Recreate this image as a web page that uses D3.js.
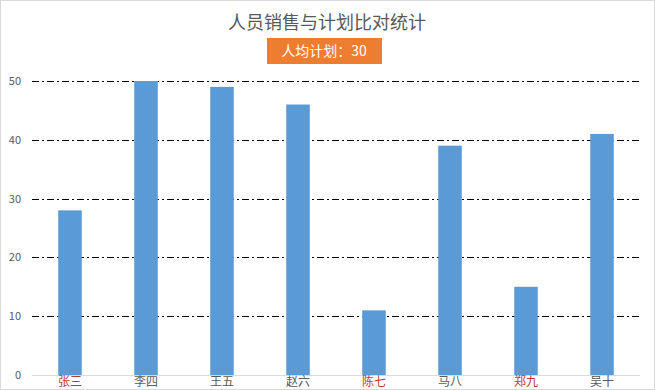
<!DOCTYPE html>
<html>
<head>
<meta charset="utf-8">
<script src="https://cdn.jsdelivr.net/npm/d3@7"></script>
<style>
  body { margin: 0; background: #fff; }
  svg { display: block; font-family: "Microsoft YaHei", "Noto Sans CJK SC", sans-serif; }
</style>
</head>
<body>
<svg width="655" height="390"></svg>
<script>
var names = ["张三", "李四", "王五", "赵六", "陈七", "马八", "郑九", "吴十"];
var sales = [28, 50, 49, 46, 11, 39, 15, 41];
var yTicks = [0, 10, 20, 30, 40, 50];
var plan = 30;

var svg = d3.select("svg"),
  width = +svg.attr("width"),
  height = +svg.attr("height");

var plotLeft = 32, plotRight = 640, plotTop = 81, plotBottom = 375;

// 外框
svg.append("rect")
  .attr("x", 0.5).attr("y", 0.5)
  .attr("width", width - 1).attr("height", height - 1)
  .attr("fill", "#fff").attr("stroke", "#d9d9d9");

var x = d3.scaleBand().domain(names).range([plotLeft, plotRight]).paddingInner(0.69).paddingOuter(0.345);
var y = d3.scaleLinear().domain([0, 50]).range([plotBottom, plotTop]);

// 网格线
svg.append("g").selectAll("line")
  .data(yTicks.filter(function(d) { return d > 0; }))
  .enter().append("line")
  .attr("x1", plotLeft).attr("x2", plotRight)
  .attr("y1", function(d) { return Math.round(y(d)) + 0.5; })
  .attr("y2", function(d) { return Math.round(y(d)) + 0.5; })
  .attr("stroke", "#000")
  .attr("stroke-width", 1)
  .attr("stroke-dasharray", "7,3,2,3");

// y轴标签
svg.append("g").selectAll("text")
  .data(yTicks)
  .enter().append("text")
  .attr("x", 21)
  .attr("y", function(d) { return y(d) + 4; })
  .attr("text-anchor", "end")
  .attr("font-size", 11)
  .attr("fill", "#595959")
  .text(function(d) { return d; });

// 柱子
svg.append("g").selectAll("rect")
  .data(sales)
  .enter().append("rect")
  .attr("x", function(d, i) { return x(names[i]); })
  .attr("width", x.bandwidth())
  .attr("y", function(d) { return y(d); })
  .attr("height", function(d) { return y(0) - y(d); })
  .attr("fill", "#5b9bd5");

// x轴
svg.append("line")
  .attr("x1", plotLeft).attr("x2", plotRight)
  .attr("y1", plotBottom + 0.5).attr("y2", plotBottom + 0.5)
  .attr("stroke", "#d9d9d9");

svg.append("g").selectAll("text")
  .data(names)
  .enter().append("text")
  .attr("x", function(d) { return x(d) + x.bandwidth() / 2; })
  .attr("y", 386)
  .attr("text-anchor", "middle")
  .attr("font-size", 12)
  .attr("fill", function(d, i) { return sales[i] < plan ? "#c0392b" : "#595959"; })
  .text(function(d) { return d; });

// 标题
svg.append("text")
  .attr("x", 327).attr("y", 29)
  .attr("text-anchor", "middle")
  .attr("font-size", 18)
  .attr("fill", "#595959")
  .text("人员销售与计划比对统计");

svg.append("rect")
  .attr("x", 267).attr("y", 38)
  .attr("width", 115).attr("height", 26)
  .attr("fill", "#ed7d31");

svg.append("text")
  .attr("x", 324).attr("y", 56)
  .attr("text-anchor", "middle")
  .attr("font-size", 14)
  .attr("fill", "#fff")
  .text("人均计划：" + plan);
</script>
</body>
</html>
